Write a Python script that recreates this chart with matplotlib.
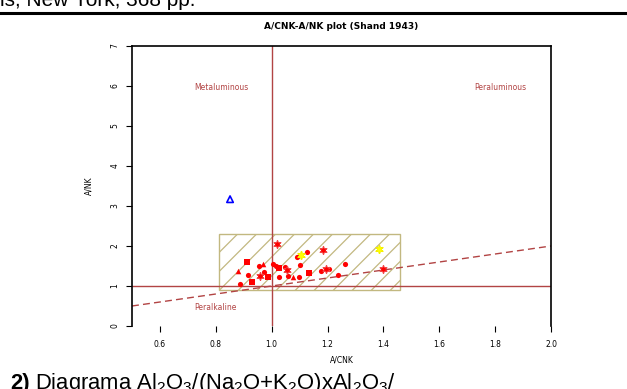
"""A/CNK vs A/NK diagram (Shand 1943), as in the scanned page."""

import matplotlib

matplotlib.use("Agg")
import matplotlib.pyplot as plt
import numpy as np
from matplotlib.patches import Rectangle

# sample points, grouped by symbol
circle_x = [0.953, 0.916, 0.887, 0.974, 1.006, 1.015, 1.046, 1.027, 1.058, 1.099,
            1.089, 1.126, 1.101, 1.175, 1.204, 1.238, 1.263]
circle_y = [1.50, 1.28, 1.04, 1.34, 1.54, 1.50, 1.47, 1.23, 1.25, 1.22,
            1.72, 1.84, 1.52, 1.38, 1.43, 1.27, 1.56]
square_x = [0.913, 0.931, 0.986, 1.028, 1.132]
square_y = [1.61, 1.11, 1.23, 1.44, 1.32]
triangle_x = [0.879, 0.970, 1.078]
triangle_y = [1.38, 1.56, 1.23]
aster_x = [1.020, 0.960, 1.054, 1.183, 1.195, 1.397]
aster_y = [2.05, 1.25, 1.40, 1.90, 1.42, 1.43]
yellow_x = [1.105, 1.385]
yellow_y = [1.78, 1.93]
blue_x = [0.851]
blue_y = [3.17]

x_ticks = [0.6, 0.8, 1.0, 1.2, 1.4, 1.6, 1.8, 2.0]
y_ticks = [0, 1, 2, 3, 4, 5, 6, 7]
field_box = (0.81, 0.90, 1.46, 2.30)  # xmin, ymin, xmax, ymax
field_labels = [("Metaluminous", 0.82, 5.95), ("Peraluminous", 1.82, 5.95),
                ("Peralkaline", 0.80, 0.47)]

LINE_RED = "#B24444"
BOX_COL = "#C2B880"

plt.rcParams["mathtext.fontset"] = "custom"
plt.rcParams["mathtext.rm"] = "Liberation Sans"
plt.rcParams["mathtext.it"] = "Liberation Sans"
plt.rcParams["mathtext.bf"] = "Liberation Sans:bold"

fig = plt.figure(figsize=(6.27, 3.89), dpi=100)
ax = fig.add_axes([132 / 627, 1 - 326 / 389, 419 / 627, 280 / 389])

ax.set_xlim(0.5, 2.0)
ax.set_ylim(0, 7)

x0, y0, x1, y1 = field_box
box = Rectangle((x0, y0), x1 - x0, y1 - y0, fill=False,
                edgecolor=BOX_COL, linewidth=1.0, zorder=1)
ax.add_patch(box)

# diagonal hatching at 45 degrees on screen, about 19 px apart
px_x = 1.5 / 419
px_y = 7.0 / 280
rise = (y1 - y0) / px_y * px_x
for start in np.arange(x0 - rise, x1, 19 * px_x):
    hatch_line, = ax.plot([start, start + rise], [y0, y1], color=BOX_COL, lw=0.9,
                          zorder=1)
    hatch_line.set_clip_path(box)

ax.axvline(1.0, color=LINE_RED, lw=1.0, zorder=2)
ax.axhline(1.0, color=LINE_RED, lw=1.0, zorder=2)
ax.plot([0.5, 2.0], [0.5, 2.0], ls=(0, (5, 3)), color=LINE_RED, lw=1.0, zorder=2)

ax.scatter(circle_x, circle_y, marker="o", s=14, color="red", lw=0, zorder=4)
ax.scatter(square_x, square_y, marker="s", s=14, color="red", lw=0, zorder=4)
ax.scatter(triangle_x, triangle_y, marker="^", s=16, color="red", lw=0, zorder=4)
ax.scatter(aster_x, aster_y, marker=(6, 2, 0), s=26, color="#F04848", lw=1.1, zorder=4)
ax.scatter(aster_x, aster_y, marker="o", s=11, color="red", lw=0, zorder=4)
ax.scatter(yellow_x, yellow_y, marker=(6, 2, 0), s=26, color="#F5F000", lw=1.2, zorder=4)
ax.scatter(yellow_x, yellow_y, marker="o", s=11, color="yellow", lw=0, zorder=4)
ax.scatter(blue_x, blue_y, marker="^", s=22, facecolor="none", edgecolor="blue",
           lw=1.2, zorder=4)

for text, tx, ty in field_labels:
    ax.text(tx, ty, text, color=LINE_RED, fontsize=5.5, ha="center", va="center")

ax.spines["bottom"].set_visible(False)
for side in ("left", "top", "right"):
    ax.spines[side].set_linewidth(1.2)
ax.set_xticks(x_ticks, [f"{v:.1f}" for v in x_ticks])
ax.set_yticks(y_ticks, [str(v) for v in y_ticks])
ax.tick_params(axis="x", labelsize=5.5, length=4, width=0.8, pad=6)
ax.tick_params(axis="y", labelsize=5.5, length=4, width=0.8, pad=5,
               labelrotation=90)
for lab in ax.get_yticklabels():
    lab.set_va("center")
ax.set_xlabel("A/CNK", fontsize=5.5, labelpad=5)
ax.set_ylabel("A/NK", fontsize=5.5, labelpad=12)
ax.set_title("A/CNK-A/NK plot (Shand 1943)", fontsize=6.5, fontweight="bold", pad=12)

# page fragments above and below the figure
fig.text(0.0, 1 - 6 / 389, "is, New York, 368 pp.", fontsize=15, va="baseline",
         ha="left", family="Liberation Sans")
fig.add_artist(plt.Line2D([0, 1], [1 - 13 / 389, 1 - 13 / 389], color="black", lw=2.2,
                          transform=fig.transFigure))
fig.text(10 / 627, 1 - 389.5 / 389, "2)", fontsize=15.8, fontweight="bold",
         va="baseline", ha="left", family="Liberation Sans")
fig.text(35 / 627, 1 - 389.5 / 389,
         r"Diagrama Al$_2$O$_3$/(Na$_2$O+K$_2$O)xAl$_2$O$_3$/",
         fontsize=15.8, va="baseline", ha="left", family="Liberation Sans")

fig.savefig("out.png", dpi=100)
